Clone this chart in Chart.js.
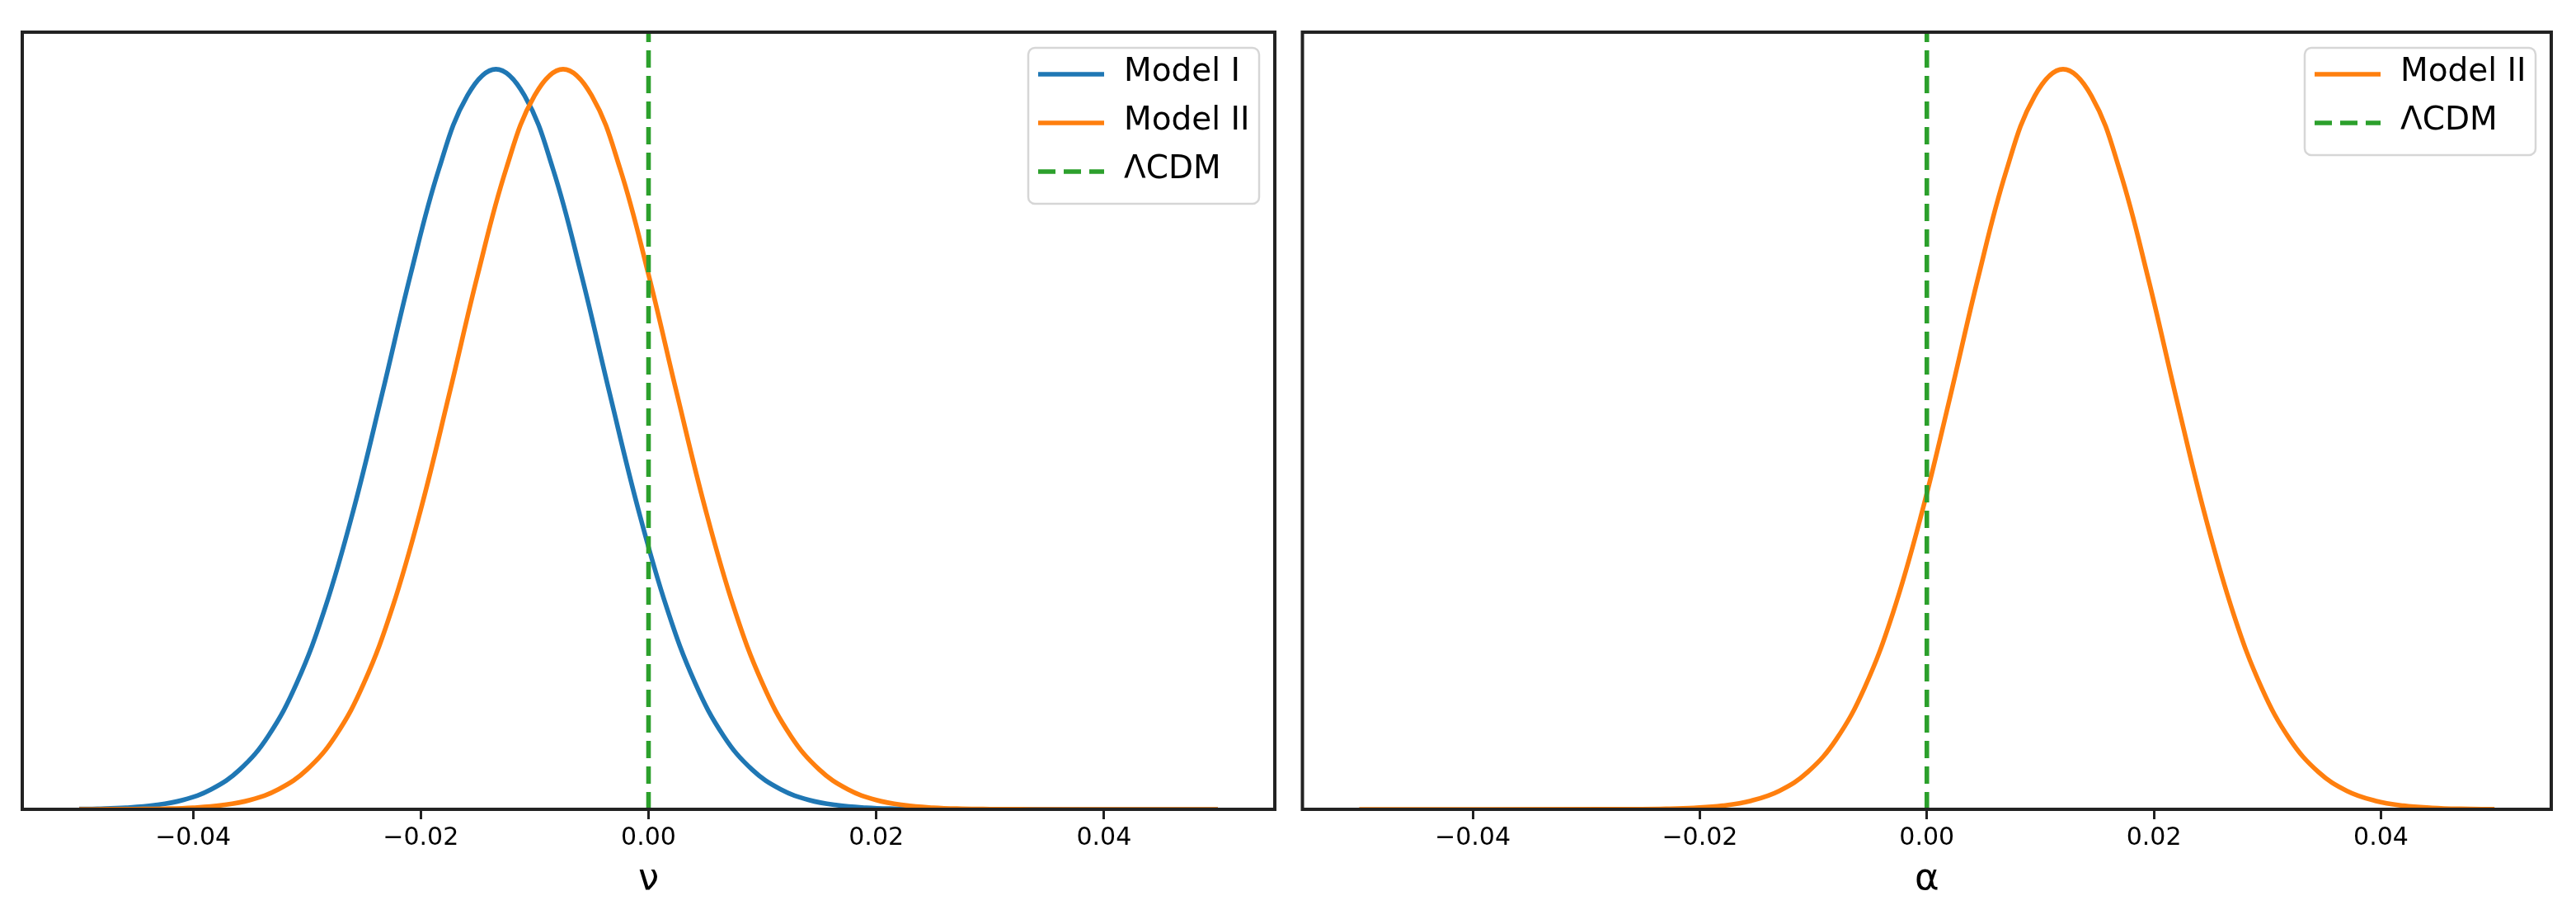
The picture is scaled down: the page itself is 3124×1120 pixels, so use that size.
<!DOCTYPE html>
<html><head><meta charset="utf-8">
<script src="https://cdn.jsdelivr.net/npm/chart.js@4/dist/chart.umd.min.js"></script>
<style>
html,body{margin:0;padding:0;background:#fff;}
#wrap{position:relative;width:3124px;height:1120px;background:#fff;}
.panel{position:absolute;top:0;width:1562px;height:1120px;}
</style></head><body>
<div id="wrap">
<div class="panel" style="left:0"><canvas id="c1" width="1562" height="1120"></canvas></div>
<div class="panel" style="left:1562px"><canvas id="c2" width="1562" height="1120"></canvas></div>
</div>
<script>
// ---- data (sample positions and curve heights) ----
const nuModelIX = [-0.05,-0.0484,-0.0459,-0.0434,-0.0409,-0.0384,-0.0359,-0.0334,-0.0309,-0.0284,-0.0259,-0.0234,-0.0209,-0.0184,-0.0159,-0.0134,-0.0109,-0.0084,-0.0059,-0.0034,-0.0009,0.0016,0.0041,0.0066,0.0091,0.0116,0.0141,0.0166,0.0191,0.0216,0.0241,0.0266,0.05];
const nuModelIY = [0.0004,0.0008,0.0022,0.0055,0.0126,0.0270,0.0536,0.0990,0.1703,0.2723,0.4052,0.5610,0.7224,0.8655,0.9645,1.0,0.9645,0.8655,0.7224,0.5610,0.4052,0.2723,0.1703,0.0990,0.0536,0.0270,0.0126,0.0055,0.0022,0.0008,0.0003,0.0001,0];
const nuModelIIX = [-0.05,-0.0475,-0.045,-0.0425,-0.04,-0.0375,-0.035,-0.0325,-0.03,-0.0275,-0.025,-0.0225,-0.02,-0.0175,-0.015,-0.0125,-0.01,-0.0075,-0.005,-0.0025,0,0.0025,0.005,0.0075,0.01,0.0125,0.015,0.0175,0.02,0.0225,0.025,0.0275,0.03,0.0325,0.035,0.05];
const nuModelIIY = [0,0.0001,0.0003,0.0008,0.0022,0.0055,0.0126,0.0270,0.0536,0.0990,0.1703,0.2723,0.4052,0.5610,0.7224,0.8655,0.9645,1.0,0.9645,0.8655,0.7224,0.5610,0.4052,0.2723,0.1703,0.0990,0.0536,0.0270,0.0126,0.0055,0.0022,0.0008,0.0003,0.0001,0,0];
const alphaModelIIX = [-0.05,-0.028,-0.0255,-0.023,-0.0205,-0.018,-0.0155,-0.013,-0.0105,-0.008,-0.0055,-0.003,-0.0005,0.002,0.0045,0.007,0.0095,0.012,0.0145,0.017,0.0195,0.022,0.0245,0.027,0.0295,0.032,0.0345,0.037,0.0395,0.042,0.0445,0.047,0.05];
const alphaModelIIY = [0,0.0001,0.0002,0.0007,0.0020,0.0049,0.0115,0.0249,0.0503,0.0941,0.1638,0.2647,0.3973,0.5539,0.7173,0.8627,0.9638,1.0,0.9638,0.8627,0.7173,0.5539,0.3973,0.2647,0.1638,0.0941,0.0503,0.0249,0.0115,0.0049,0.0020,0.0007,0.0002];
const xTicks = [-0.04,-0.02,0,0.02,0.04];
const lcdmX = 0;
const xLimits = [-0.055, 0.055];
const yLimits = [0, 1.05];
const axisTitles = ['ν','α'];
const labelModelI = 'Model I', labelModelII = 'Model II', labelLCDM = 'ΛCDM';

// ---- styling ----
const BLUE = '#1f77b4', ORANGE = '#ff7f0e', GREEN = '#2ca02c';
const FONT = '"DejaVu Sans", sans-serif';
const LW = 5.6;

function pts(xs, ys){ return xs.map((x,i)=>({x:x, y:ys[i]})); }
function fmt(v){ return v < 0 ? '\u2212' + Math.abs(v).toFixed(2) : Math.abs(v).toFixed(2); }

const framePlugin = {
  id:'frame',
  afterDatasetsDraw(chart){
    const {ctx, chartArea:a} = chart;
    ctx.save();
    ctx.strokeStyle = '#222'; ctx.lineWidth = 4; ctx.setLineDash([]);
    ctx.strokeRect(a.left, a.top, a.right - a.left, a.bottom - a.top);
    ctx.restore();
  }
};

const legendPlugin = {
  id:'boxLegend',
  afterDraw(chart){
    const {ctx, chartArea:a} = chart;
    const items = chart.data.datasets;
    const boxW = 280, padTop = 32, rowH = 59, padBottom = 39;
    const boxH = padTop + rowH*(items.length-1) + padBottom;
    const x0 = a.right - 19 - boxW, y0 = a.top + 19;
    ctx.save();
    ctx.beginPath();
    ctx.roundRect(x0, y0, boxW, boxH, 8);
    ctx.fillStyle = 'rgba(255,255,255,0.8)'; ctx.fill();
    ctx.strokeStyle = '#d6d6d6'; ctx.lineWidth = 2.5; ctx.stroke();
    items.forEach((ds,i)=>{
      const cy = y0 + padTop + i*rowH;
      ctx.beginPath();
      ctx.strokeStyle = ds.borderColor; ctx.lineWidth = ds.borderWidth;
      ctx.setLineDash(ds.borderDash || []); ctx.lineCap = 'butt';
      ctx.moveTo(x0 + 12, cy); ctx.lineTo(x0 + 92, cy); ctx.stroke();
      ctx.setLineDash([]);
      ctx.fillStyle = '#000'; ctx.font = '39px ' + FONT; ctx.textBaseline = 'middle'; ctx.textAlign = 'left';
      ctx.fillText(ds.label, x0 + 116, cy - 2);
    });
    ctx.restore();
  }
};

function makeChart(id, datasets, title, padL, padR){
  return new Chart(document.getElementById(id), {
    type:'line',
    data:{datasets},
    options:{
      responsive:false, animation:false, devicePixelRatio:1,
      layout:{padding:{left:padL, right:padR, top:39, bottom:0}},
      plugins:{legend:{display:false}, tooltip:{enabled:false}},
      elements:{point:{radius:0}, line:{tension:0.4}},
      scales:{
        x:{
          type:'linear', min:xLimits[0], max:xLimits[1],
          afterBuildTicks: s => { s.ticks = xTicks.map(v=>({value:v})); },
          afterFit: s => { s.height = 139; },
          ticks:{autoSkip:false, maxRotation:0, minRotation:0, padding:8, color:'#000',
                 font:{family:FONT, size:30, lineHeight:1}, callback: v => fmt(v)},
          grid:{display:true, drawOnChartArea:false, drawTicks:true, tickLength:12, tickWidth:3, tickColor:'#222'},
          border:{display:false},
          title:{display:true, text:title, color:'#000', font:{family:FONT, size:45, lineHeight:1}, padding:{top:0, bottom:31}}
        },
        y:{display:false, min:yLimits[0], max:yLimits[1]}
      }
    },
    plugins:[framePlugin, legendPlugin]
  });
}

const lcdmLine = () => ({label:labelLCDM, data:[{x:lcdmX,y:yLimits[0]},{x:lcdmX,y:yLimits[1]}], borderColor:GREEN, borderWidth:LW, borderDash:[21,10], borderCapStyle:'butt', fill:false, order:1, tension:0});

makeChart('c1', [
  {label:labelModelI, data:pts(nuModelIX, nuModelIY), borderColor:BLUE, borderWidth:LW, fill:false, order:3},
  {label:labelModelII, data:pts(nuModelIIX, nuModelIIY), borderColor:ORANGE, borderWidth:LW, fill:false, order:2},
  lcdmLine()
], axisTitles[0], 27, 16);

makeChart('c2', [
  {label:labelModelII, data:pts(alphaModelIIX, alphaModelIIY), borderColor:ORANGE, borderWidth:LW, fill:false, order:2},
  lcdmLine()
], axisTitles[1], 17.5, 30);
</script>
</body></html>
